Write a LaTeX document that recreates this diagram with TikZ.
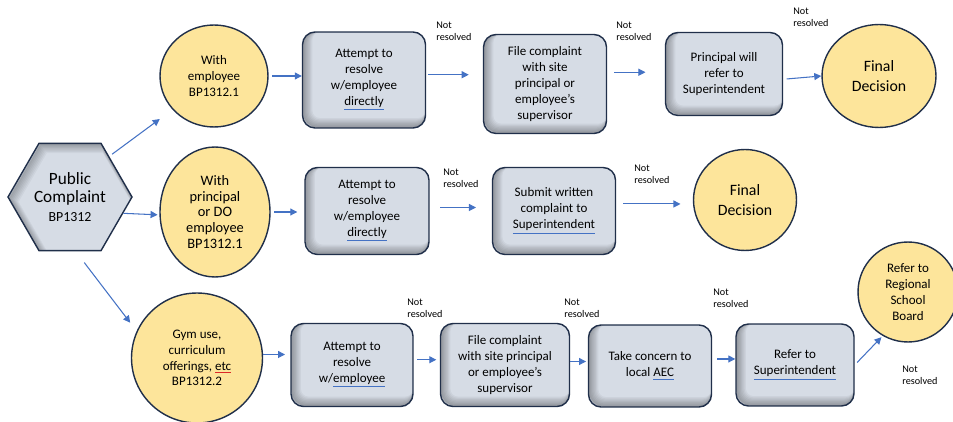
\documentclass[tikz,border=0pt]{standalone}
\usepackage{fontspec}
\setmainfont{Carlito}
\usetikzlibrary{shapes.geometric,arrows.meta}
\definecolor{boxfill}{RGB}{214,220,229}
\definecolor{circfill}{RGB}{253,229,155}
\definecolor{edgeblue}{RGB}{32,47,74}
\definecolor{arrowblue}{RGB}{68,114,196}
\definecolor{markred}{RGB}{220,40,40}
\newcommand{\spellok}[1]{{\color{arrowblue}\underline{\textcolor{black}{#1}}}}
\newcommand{\spellbad}[1]{{\color{markred}\underline{\textcolor{black}{#1}}}}

\tikzset{
	innershadow/.style={path picture={
		\foreach \w in {1,...,8}
		\draw[black,opacity=0.045,line width=\w*0.7pt,rounded corners=0.25cm]
		([shift={(\w*0.35pt,\w*0.35pt)}]path picture bounding box.south west) rectangle
		([shift={(\w*0.35pt,\w*0.35pt)}]path picture bounding box.north east);
	}},
	hexshadow/.style={path picture={
		\foreach \w in {1,...,8}
		\node[regular polygon,regular polygon sides=6,minimum size=2.48cm,inner sep=0pt,
		draw=black,opacity=0.04,line width=\w*0.7pt] at ([shift={(\w*0.35pt,-\w*0.35pt)}]path picture bounding box.center) {};
	}},
	stepbox/.style={draw=edgeblue,line width=0.8pt,fill=boxfill,rounded corners=0.25cm,
		align=center,inner sep=0pt,font=\fontsize{7.4}{9}\selectfont,innershadow},
	hexbox/.style={regular polygon,regular polygon sides=6,minimum size=2.48cm,draw=edgeblue,
		line width=0.8pt,fill=boxfill,align=center,inner sep=0pt,font=\fontsize{9.8}{10.4}\selectfont,hexshadow},
	bubble/.style={ellipse,draw=edgeblue,line width=0.8pt,fill=circfill,align=center,
		inner sep=0pt,font=\fontsize{7.4}{9}\selectfont},
	note/.style={anchor=north west,align=left,inner sep=0pt,font=\fontsize{5.8}{6.8}\selectfont},
	flow/.style={draw=arrowblue,line width=0.6pt,-{Triangle[length=4pt,width=4pt]}}
}

\begin{document}
\begin{tikzpicture}[x=0.02cm,y=-0.02cm]
	\useasboundingbox (0,0) rectangle (953,422);
	% start
	\node[hexbox] (hex) at (70,197) {Public\\Complaint\\{\fontsize{7.9}{10}\selectfont BP1312}};
	% first row
	\node[bubble,minimum width=2.16cm,minimum height=2.04cm] (emp) at (214,76) {With\\employee\\BP1312.1};
	\node[stepbox,minimum width=2.46cm,minimum height=1.92cm] (try1) at (364,80) {Attempt to\\resolve\\w/employee\\\spellok{directly}};
	\node[stepbox,minimum width=2.46cm,minimum height=1.98cm] (file1) at (545,84) {File complaint\\with site\\principal or\\employee’s\\supervisor};
	\node[stepbox,minimum width=2.34cm,minimum height=1.66cm] (refer1) at (724,74) {Principal will\\refer to\\Superintendent};
	\node[bubble,minimum width=2.28cm,minimum height=2.06cm,font=\fontsize{9}{11}\selectfont] (final1) at (879,76) {Final\\Decision};
	% second row
	\node[bubble,minimum width=2.2cm,minimum height=2.6cm,font=\fontsize{8.2}{9}\selectfont] (prin) at (215,212) {With\\principal\\or DO\\employee\\BP1312.1};
	\node[stepbox,minimum width=2.48cm,minimum height=1.74cm] (try2) at (367,211) {Attempt to\\resolve\\w/employee\\\spellok{directly}};
	\node[stepbox,minimum width=2.46cm,minimum height=1.74cm] (submit2) at (554,211) {Submit written\\complaint to\\\spellok{Superintendent}};
	\node[bubble,minimum width=2.06cm,minimum height=2.02cm,font=\fontsize{9}{11}\selectfont] (final2) at (745,200) {Final\\Decision};
	% third row
	\node[bubble,minimum width=2.62cm,minimum height=2.6cm] (gym) at (197,358) {Gym use,\\curriculum\\offerings, \spellbad{etc}\\BP1312.2};
	\node[stepbox,minimum width=2.44cm,minimum height=1.66cm] (try3) at (352,365) {Attempt to\\resolve\\w/\spellok{employee}};
	\node[stepbox,minimum width=2.58cm,minimum height=1.66cm] (file3) at (505,365) {File complaint\\with site principal\\or employee’s\\supervisor};
	\node[stepbox,minimum width=2.46cm,minimum height=1.64cm] (aec3) at (650,366) {Take concern to\\local \spellok{AEC}};
	\node[stepbox,minimum width=2.36cm,minimum height=1.64cm] (super3) at (795,365) {Refer to\\\spellok{Superintendent}};
	\node[bubble,minimum width=2cm,minimum height=2cm] (board3) at (908,292) {Refer to\\Regional\\School\\Board};

	% connectors
	\draw[flow,shorten <=2pt,shorten >=9pt] (hex.46) -- (emp.219);
	\draw[flow,shorten >=1pt] (hex.343) -- (prin.183);
	\draw[flow,shorten <=8pt,shorten >=6pt] (hex.276) -- (gym.156);
	\draw[flow,shorten <=2pt] (emp.east) -- (emp.east -| try1.west);
	\draw[flow,shorten <=1pt,shorten >=8pt] ([yshift=3pt]try1.east) -- ([yshift=3pt]try1.east -| file1.west);
	\draw[flow,shorten <=4pt,shorten >=11pt] ([yshift=1pt]refer1.west -| file1.east) -- ([yshift=1pt]refer1.west);
	\draw[flow,shorten <=2pt] ([yshift=-3pt]refer1.east) -- (final1.west);
	\draw[flow,shorten <=2pt,shorten >=4pt] (prin.east) -- (prin.east -| try2.west);
	\draw[flow,shorten <=6pt,shorten >=9pt] ([yshift=2pt]try2.east) -- ([yshift=2pt]try2.east -| submit2.west);
	\draw[flow,shorten <=4pt,shorten >=7pt] ([yshift=4pt]submit2.east) -- ([yshift=4pt]submit2.east -| final2.west);
	\draw[flow,shorten >=3pt] ([yshift=2pt]gym.east) -- ([yshift=2pt]gym.east -| try3.west);
	\draw[flow,shorten <=2pt,shorten >=2pt] ([yshift=3pt]try3.east) -- ([yshift=3pt]try3.east -| file3.west);
	\draw[flow,shorten >=1pt] ([yshift=2pt]file3.east) -- ([yshift=2pt]file3.east -| aec3.west);
	\draw[flow,shorten <=3pt] ([yshift=4pt]aec3.east) -- ([yshift=4pt]aec3.east -| super3.west);
	\draw[flow,shorten <=2pt,shorten >=1pt] (super3.east) -- (board3.240);

	% labels
	\node[note] (nr1) at (436,22) {Not\\resolved};
	\node[note] (nr2) at (616,22) {Not\\resolved};
	\node[note] (nr3) at (793,8) {Not\\resolved};
	\node[note] (nr4) at (443,169) {Not\\resolved};
	\node[note] (nr5) at (634,165) {Not\\resolved};
	\node[note] (nr6) at (407,299) {Not\\resolved};
	\node[note] (nr7) at (564,299) {Not\\resolved};
	\node[note] (nr8) at (713,289) {Not\\resolved};
	\node[note] (nr9) at (902,366) {Not\\resolved};
\end{tikzpicture}
\end{document}
